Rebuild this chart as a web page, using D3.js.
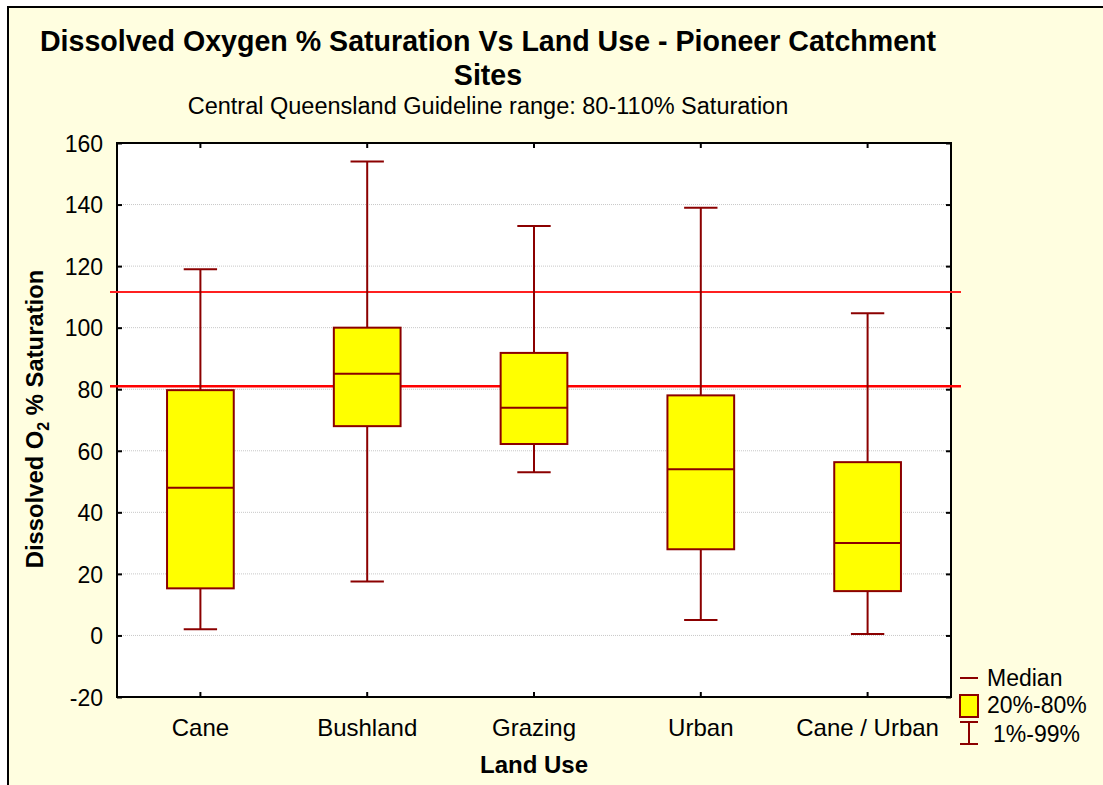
<!DOCTYPE html>
<html>
<head>
<meta charset="utf-8">
<script src="https://cdn.jsdelivr.net/npm/d3@7"></script>
<style>
  body { margin: 0; background: #ffffff; }
  text { font-family: Arial, "Liberation Sans", sans-serif; fill: #000; }
</style>
</head>
<body>
<div id="my_dataviz"></div>
<script>
// data
var landUse   = ["Cane", "Bushland", "Grazing", "Urban", "Cane / Urban"];
var p01       = [2, 17.5, 53, 5, 0.5];
var p20       = [15.3, 68, 62.2, 28, 14.4];
var median    = [48, 85, 74, 54, 30];
var p80       = [79.7, 100, 91.8, 78, 56.3];
var p99       = [119, 154, 133, 139, 104.7];
var yTicks    = [-20, 0, 20, 40, 60, 80, 100, 120, 140, 160];
var guideline = [81, 111.6];

var boxes = landUse.map(function(d, i) {
  return {name: d, lo: p01[i], q1: p20[i], med: median[i], q3: p80[i], hi: p99[i]};
});

var W = 1103, H = 785;
var margin = {top: 143, right: 152, bottom: 88, left: 117},
    width = W - margin.left - margin.right,
    height = H - margin.top - margin.bottom;

var dark = "#8b0000";

var root = d3.select("#my_dataviz")
  .append("svg")
    .attr("width", W)
    .attr("height", H);

// page background and frame
root.append("rect")
  .attr("x", 8).attr("y", 7)
  .attr("width", W).attr("height", H)
  .attr("fill", "#fffee0")
  .attr("stroke", "#000")
  .attr("stroke-width", 2);

// titles
root.append("text")
  .attr("x", 488).attr("y", 51)
  .attr("text-anchor", "middle")
  .style("font-size", "28.6px").style("font-weight", "bold")
  .text("Dissolved Oxygen % Saturation Vs Land Use - Pioneer Catchment");
root.append("text")
  .attr("x", 488).attr("y", 85)
  .attr("text-anchor", "middle")
  .style("font-size", "28.6px").style("font-weight", "bold")
  .text("Sites");
root.append("text")
  .attr("x", 488).attr("y", 114)
  .attr("text-anchor", "middle")
  .style("font-size", "23.5px")
  .text("Central Queensland Guideline range: 80-110% Saturation");

var svg = root.append("g")
  .attr("transform", "translate(" + margin.left + "," + margin.top + ")");

var x = d3.scaleBand()
  .domain(landUse)
  .range([0, width]);

var y = d3.scaleLinear()
  .domain([-20, 160])
  .range([height, 0]);

// plot area
svg.append("rect")
  .attr("width", width).attr("height", height)
  .attr("fill", "#fff");

// dotted grid
svg.append("g")
  .selectAll("line")
  .data(yTicks.slice(1, -1))
  .enter().append("line")
    .attr("x1", 0).attr("x2", width)
    .attr("y1", function(d) { return y(d); })
    .attr("y2", function(d) { return y(d); })
    .attr("stroke", "#c8c8c8")
    .attr("stroke-dasharray", "1,1");

// axes, ticks pointing inward
var yAxis = svg.append("g")
  .call(d3.axisLeft(y).tickValues(yTicks).tickSize(-5).tickPadding(14)
    .tickFormat(function(d) { return String(d); }));
var yAxisR = svg.append("g")
  .attr("transform", "translate(" + width + ",0)")
  .call(d3.axisRight(y).tickValues(yTicks).tickSize(-5).tickFormat(""));
var xAxis = svg.append("g")
  .attr("transform", "translate(0," + height + ")")
  .call(d3.axisBottom(x).tickSize(-5).tickPadding(22));
var xAxisT = svg.append("g")
  .call(d3.axisTop(x).tickSize(-5).tickFormat(""));

[yAxis, yAxisR, xAxis, xAxisT].forEach(function(a) {
  a.select(".domain").remove();
  a.selectAll("line").attr("stroke", "#000").attr("stroke-width", 2);
  a.selectAll("text").style("font-size", "23px").attr("fill", "#000")
    .style("font-family", "Arial, 'Liberation Sans', sans-serif");
});
yAxis.selectAll("text").attr("dy", "0.36em");
xAxis.selectAll("text").style("font-size", "24px");

// frame of the plot
svg.append("rect")
  .attr("width", width).attr("height", height)
  .attr("fill", "none")
  .attr("stroke", "#000")
  .attr("stroke-width", 2);

// guideline lines
svg.selectAll(".guide")
  .data(guideline)
  .enter().append("line")
    .attr("class", "guide")
    .attr("x1", -7).attr("x2", width + 10)
    .attr("y1", function(d) { return y(d); })
    .attr("y2", function(d) { return y(d); })
    .attr("stroke", function(d, i) { return i == 0 ? "#ff0000" : "#ff2020"; })
    .attr("stroke-width", function(d, i) { return i == 0 ? 2.5 : 2; });

// box plots
var bw = x.bandwidth() * 0.4,
    cw = x.bandwidth() * 0.2;

var g = svg.selectAll(".box")
  .data(boxes)
  .enter().append("g")
    .attr("class", "box")
    .attr("transform", function(d) { return "translate(" + (x(d.name) + x.bandwidth() / 2) + ",0)"; });

g.append("line")
  .attr("x1", 0).attr("x2", 0)
  .attr("y1", function(d) { return y(d.hi); })
  .attr("y2", function(d) { return y(d.lo); })
  .attr("stroke", dark).attr("stroke-width", 2);
g.append("line")
  .attr("x1", -cw / 2).attr("x2", cw / 2)
  .attr("y1", function(d) { return y(d.hi); })
  .attr("y2", function(d) { return y(d.hi); })
  .attr("stroke", dark).attr("stroke-width", 2);
g.append("line")
  .attr("x1", -cw / 2).attr("x2", cw / 2)
  .attr("y1", function(d) { return y(d.lo); })
  .attr("y2", function(d) { return y(d.lo); })
  .attr("stroke", dark).attr("stroke-width", 2);
g.append("rect")
  .attr("x", -bw / 2).attr("width", bw)
  .attr("y", function(d) { return y(d.q3); })
  .attr("height", function(d) { return y(d.q1) - y(d.q3); })
  .attr("fill", "#ffff00")
  .attr("stroke", dark).attr("stroke-width", 2);
g.append("line")
  .attr("x1", -bw / 2).attr("x2", bw / 2)
  .attr("y1", function(d) { return y(d.med); })
  .attr("y2", function(d) { return y(d.med); })
  .attr("stroke", dark).attr("stroke-width", 2);

// axis titles
root.append("text")
  .attr("x", margin.left + width / 2).attr("y", 773)
  .attr("text-anchor", "middle")
  .style("font-size", "24px").style("font-weight", "bold")
  .text("Land Use");

var yt = root.append("text")
  .attr("transform", "translate(43," + (margin.top + height / 2 - 1) + ")rotate(-90)")
  .attr("text-anchor", "middle")
  .style("font-size", "23.8px").style("font-weight", "bold");
yt.append("tspan").text("Dissolved O");
yt.append("tspan").attr("dy", 6).style("font-size", "16px").text("2");
yt.append("tspan").attr("dy", -6).text(" % Saturation");

// legend
var lg = root.append("g").attr("transform", "translate(960,0)");
lg.append("line")
  .attr("x1", 0).attr("x2", 18).attr("y1", 678).attr("y2", 678)
  .attr("stroke", dark).attr("stroke-width", 2);
lg.append("rect")
  .attr("x", 0).attr("y", 695).attr("width", 18).attr("height", 22)
  .attr("fill", "#ffff00").attr("stroke", dark).attr("stroke-width", 2);
lg.append("line")
  .attr("x1", 9).attr("x2", 9).attr("y1", 722).attr("y2", 744)
  .attr("stroke", dark).attr("stroke-width", 2);
lg.append("line")
  .attr("x1", 0).attr("x2", 18).attr("y1", 722).attr("y2", 722)
  .attr("stroke", dark).attr("stroke-width", 2);
lg.append("line")
  .attr("x1", 0).attr("x2", 18).attr("y1", 744).attr("y2", 744)
  .attr("stroke", dark).attr("stroke-width", 2);
lg.append("text").attr("x", 27).attr("y", 686).style("font-size", "23px").text("Median");
lg.append("text").attr("x", 27).attr("y", 713).style("font-size", "23px").text("20%-80%");
lg.append("text").attr("x", 33).attr("y", 742).style("font-size", "23px").text("1%-99%");
</script>
</body>
</html>
